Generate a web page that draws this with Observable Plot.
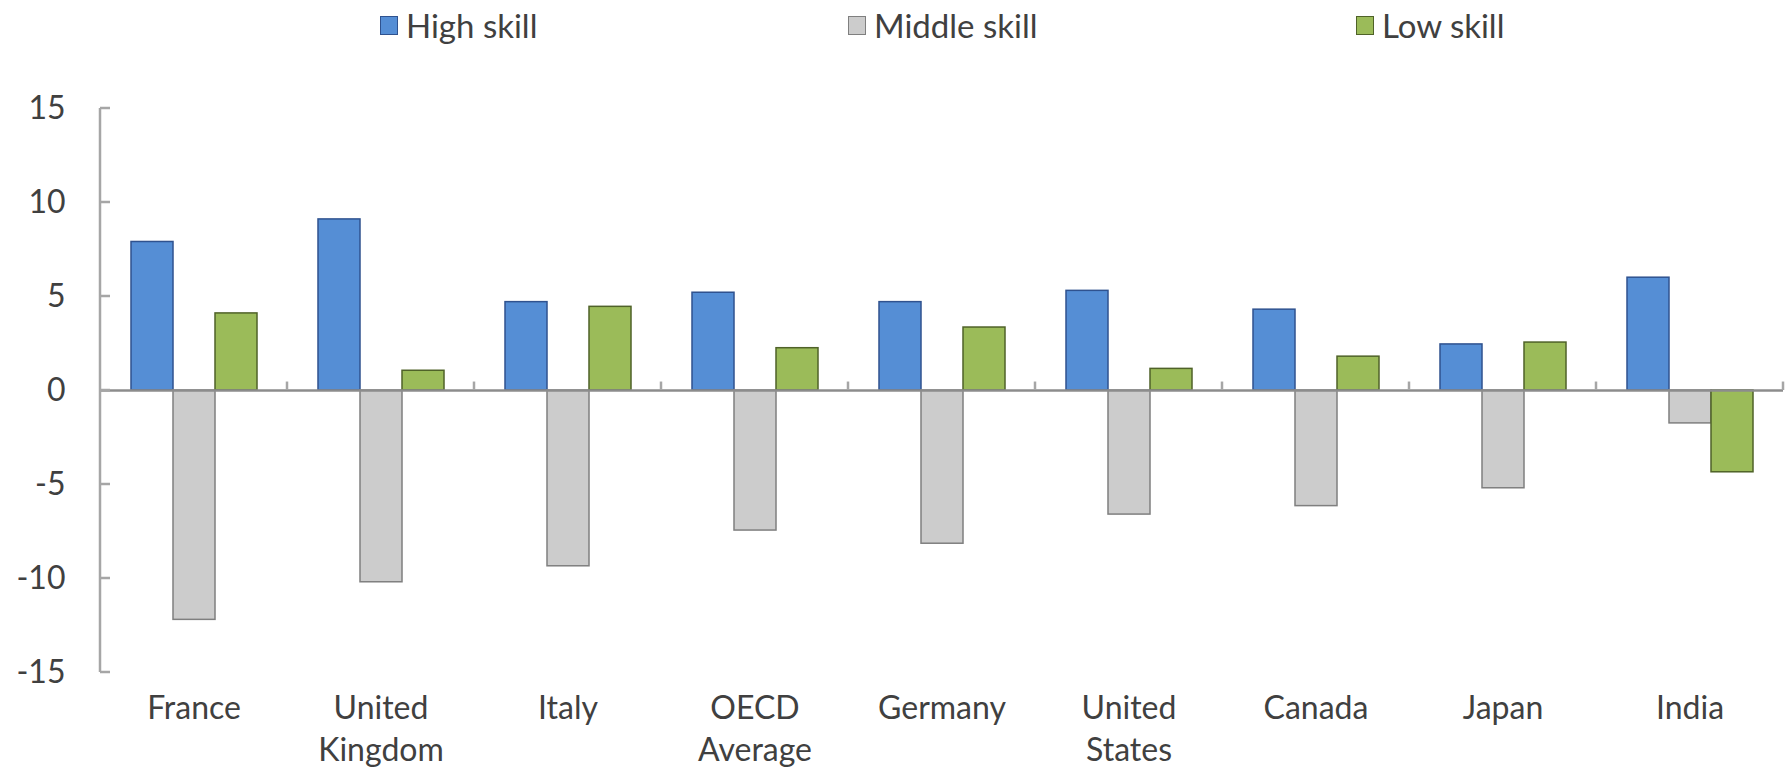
<!DOCTYPE html>
<html>
<head>
<meta charset="utf-8">
<script src="https://cdn.jsdelivr.net/npm/d3@7"></script>
<script src="https://cdn.jsdelivr.net/npm/@observablehq/plot@0.6"></script>
<style>
  html, body { margin: 0; padding: 0; background: #fff; }
  #wrap { position: relative; width: 1788px; height: 771px; font-family: Lato, "Open Sans", sans-serif; color: #404040; overflow: hidden; }
  #legend { position: relative; height: 50px; width: 1788px; }
  .item { position: absolute; top: 7px; display: flex; align-items: center; font-size: 33px; line-height: 36px; }
  .sw { width: 18px; height: 19px; margin-right: 8px; box-sizing: border-box; border: 1.5px solid; }
</style>
</head>
<body>
<div id="wrap">
  <div id="legend"></div>
  <div id="chart"></div>
</div>
<script>
const countries = ["France", "United Kingdom", "Italy", "OECD Average", "Germany", "United States", "Canada", "Japan", "India"];
const countryLabels = ["France", "United\nKingdom", "Italy", "OECD\nAverage", "Germany", "United\nStates", "Canada", "Japan", "India"];
const skills = ["High skill", "Middle skill", "Low skill"];
const highSkill   = [7.9, 9.1, 4.7, 5.2, 4.7, 5.3, 4.3, 2.45, 6.0];
const middleSkill = [-12.2, -10.2, -9.35, -7.45, -8.15, -6.6, -6.15, -5.2, -1.75];
const lowSkill    = [4.1, 1.05, 4.45, 2.25, 3.35, 1.15, 1.8, 2.55, -4.35];
const yTicks = [-15, -10, -5, 0, 5, 10, 15];

const fills = ["#558ed5", "#cccccc", "#9bbb59"];
const strokes = ["#2f528f", "#7f7f7f", "#4f6228"];
const legendLeft = [380, 848, 1356];

const series = [highSkill, middleSkill, lowSkill];
const data = [];
skills.forEach((s, si) => countries.forEach((c, ci) => data.push({country: c, skill: s, value: series[si][ci]})));

// legend
const legend = document.getElementById("legend");
skills.forEach((s, i) => {
  const it = document.createElement("div");
  it.className = "item";
  it.style.left = legendLeft[i] + "px";
  it.innerHTML = `<span class="sw" style="background:${fills[i]};border-color:${strokes[i]}"></span><span>${s}</span>`;
  legend.appendChild(it);
});

const labelOf = new Map(countries.map((c, i) => [c, countryLabels[i]]));

const plot = Plot.plot({
  width: 1788,
  height: 721,
  marginTop: 58,
  marginBottom: 99,
  marginLeft: 97,
  marginRight: 2,
  style: {fontFamily: "Lato, 'Open Sans', sans-serif", fontSize: "32px", color: "#404040", background: "#fff", overflow: "visible"},
  fx: {domain: countries, padding: 0, axis: null, label: null},
  x: {domain: skills, paddingInner: 0, paddingOuter: 0.7, axis: null},
  y: {domain: [-15, 15], axis: null, label: null},
  marks: [
    ...skills.map((s, i) => Plot.barY(data.filter(d => d.skill === s), {
      fx: "country", x: "skill", y: "value",
      fill: fills[i], stroke: strokes[i], strokeWidth: 1.5
    })),
    Plot.ruleY([0], {stroke: "#8c8c8c", strokeWidth: 2.5}),
    Plot.axisY(yTicks, {anchor: "left", tickSize: 0, tickPadding: 35, tickFormat: d => String(d), label: null, fill: "#404040"}),
    Plot.axisFx({anchor: "bottom", tickSize: 0, tickPadding: 17, tickFormat: d => labelOf.get(d), lineHeight: 1.3, label: null, fill: "#404040"})
  ]
});
document.getElementById("chart").appendChild(plot);

// axis line, inward y ticks and category boundary ticks drawn from Plot's own scales
const fx = plot.scale("fx"), y = plot.scale("y");
const svg = d3.select(plot);
const g = svg.append("g").attr("stroke", "#a6a6a6").attr("stroke-width", 2.5);
const x0 = fx.apply(countries[0]);
g.append("line").attr("x1", x0).attr("x2", x0).attr("y1", y.apply(15)).attr("y2", y.apply(-15));
yTicks.forEach(t => g.append("line").attr("x1", x0).attr("x2", x0 + 10).attr("y1", y.apply(t)).attr("y2", y.apply(t)));
const bounds = countries.slice(1).map(c => fx.apply(c));
bounds.push(fx.apply(countries[countries.length - 1]) + fx.bandwidth);
bounds.forEach(b => g.append("line").attr("x1", b).attr("x2", b).attr("y1", y.apply(0)).attr("y2", y.apply(0.45)));
</script>
</body>
</html>
